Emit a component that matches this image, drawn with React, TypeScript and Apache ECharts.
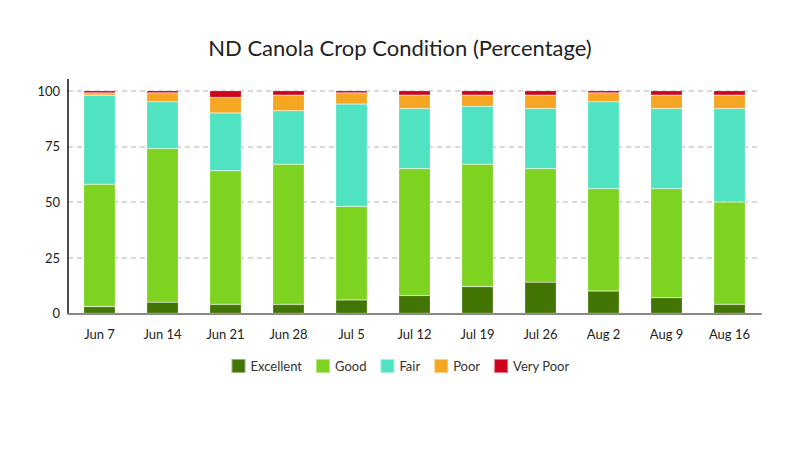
import React, { useEffect, useRef } from "react";
import * as echarts from "echarts";

const categories = ["Jun 7", "Jun 14", "Jun 21", "Jun 28", "Jul 5", "Jul 12", "Jul 19", "Jul 26", "Aug 2", "Aug 9", "Aug 16"];
const excellent = [3, 5, 4, 4, 6, 8, 12, 14, 10, 7, 4];
const good = [55, 69, 60, 63, 42, 57, 55, 51, 46, 49, 46];
const fair = [40, 21, 26, 24, 46, 27, 26, 27, 39, 36, 42];
const poor = [1, 4, 7, 7, 5, 6, 5, 6, 4, 6, 6];
const veryPoor = [1, 1, 3, 2, 1, 2, 2, 2, 1, 2, 2];
const yTicks = [0, 25, 50, 75, 100];

const seriesDefs = [
  { name: "Excellent", data: excellent, color: "#437505" },
  { name: "Good", data: good, color: "#7ed321" },
  { name: "Fair", data: fair, color: "#50e3c2" },
  { name: "Poor", data: poor, color: "#f5a623" },
  { name: "Very Poor", data: veryPoor, color: "#d0021b" },
];

export default function App() {
  const ref = useRef<HTMLDivElement>(null);
  useEffect(() => {
    document.body.style.margin = "0";
    if (!ref.current) return;
    const chart = echarts.init(ref.current, null, { renderer: "svg" });
    const font = "Lato, 'Noto Sans', sans-serif";
    chart.setOption({
      animation: false,
      textStyle: { fontFamily: font },
      title: {
        text: "ND Canola Crop Condition (Percentage)",
        left: "center",
        top: 31,
        textStyle: { fontFamily: font, fontSize: 22, fontWeight: "normal", color: "#222" },
      },
      legend: {
        bottom: 71,
        left: "center",
        itemWidth: 14,
        itemHeight: 14,
        itemGap: 13,
        icon: "rect",
        textStyle: { fontFamily: font, fontSize: 13, color: "#333" },
        data: seriesDefs.map((s) => s.name),
      },
      grid: { left: 68, right: 39, top: 90.7, bottom: 136.7, containLabel: false },
      xAxis: {
        type: "category",
        data: categories,
        axisLine: { show: true, lineStyle: { color: "#888", width: 2 } },
        axisTick: { show: false },
        axisLabel: { fontFamily: font, fontSize: 13, color: "#222", margin: 14 },
      },
      yAxis: {
        type: "value",
        min: yTicks[0],
        max: yTicks[yTicks.length - 1],
        interval: 25,
        axisLine: { show: true, lineStyle: { color: "#111", width: 1.5 } },
        axisTick: { show: false },
        axisLabel: { fontFamily: font, fontSize: 13, color: "#222", margin: 8 },
        splitLine: { show: true, lineStyle: { color: "#ccc", type: [5, 4], width: 1.5 } },
      },
      graphic: [
        {
          type: "line",
          shape: { x1: 68, y1: 79, x2: 68, y2: 91 },
          style: { stroke: "#111", lineWidth: 1.5 },
        },
      ],
      series: seriesDefs.map((s) => ({
        name: s.name,
        type: "bar",
        stack: "total",
        barWidth: "50%",
        data: s.data,
        itemStyle: { color: s.color, borderColor: "rgba(255,255,255,0.45)", borderWidth: 0.5 },
      })),
    });
    return () => chart.dispose();
  }, []);
  return <div ref={ref} style={{ width: 800, height: 450 }} />;
}
